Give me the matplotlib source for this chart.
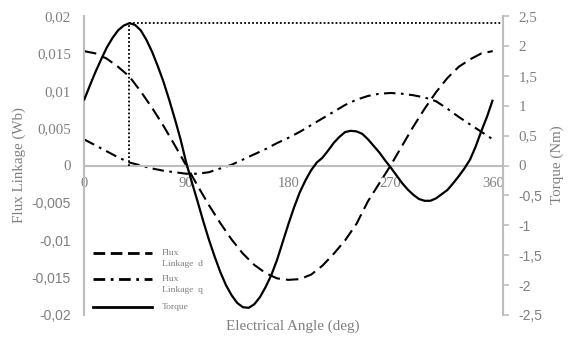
import numpy as np
import matplotlib
matplotlib.use("Agg")
import matplotlib.pyplot as plt

# ---------------- data ----------------
angle_flux = [0, 10, 20, 30, 40, 50, 60, 70, 80, 90, 100, 110, 120, 130, 140, 150, 160, 170, 180,
              190, 200, 210, 220, 230, 240, 250, 260, 270, 280, 290, 300, 310, 320, 330, 340, 350, 360]
flux_d = [0.0153, 0.0150, 0.0143, 0.0132, 0.0119, 0.0099, 0.0077, 0.0053, 0.0027, 0.0000,
          -0.0027, -0.0053, -0.0077, -0.0099, -0.0118, -0.0133, -0.0144, -0.0151, -0.0153,
          -0.0152, -0.0146, -0.0134, -0.0118, -0.0100, -0.0078, -0.0048, -0.0024, 0.0000,
          0.0026, 0.0052, 0.0076, 0.0098, 0.0117, 0.0132, 0.0142, 0.0150, 0.0153]
flux_q = [0.0035, 0.0027, 0.0019, 0.0011, 0.0004, 0.0000, -0.0004, -0.0007, -0.0009, -0.0011,
          -0.0011, -0.0009, -0.0004, 0.0001, 0.0008, 0.0015, 0.0022, 0.0030, 0.0037,
          0.0045, 0.0054, 0.0063, 0.0072, 0.0081, 0.0088, 0.0093, 0.0096, 0.0097,
          0.0096, 0.0094, 0.0091, 0.0086, 0.0076, 0.0065, 0.0055, 0.0045, 0.0035]

angle_torque = list(range(0, 361, 5))
torque = [1.09, 1.33, 1.56, 1.77, 1.97, 2.13, 2.26, 2.34, 2.38, 2.35, 2.26, 2.10, 1.90, 1.66, 1.40,
          1.10, 0.78, 0.44, 0.05, -0.28, -0.60, -0.93, -1.24, -1.52, -1.78, -2.00, -2.17, -2.30,
          -2.37, -2.38, -2.32, -2.20, -2.03, -1.83, -1.58, -1.28, -0.98, -0.70, -0.45, -0.25,
          -0.08, 0.05, 0.13, 0.25, 0.38, 0.48, 0.56, 0.58, 0.57, 0.53, 0.44, 0.33, 0.22, 0.09,
          -0.03, -0.16, -0.29, -0.40, -0.49, -0.56, -0.59, -0.59, -0.55, -0.48, -0.41, -0.30,
          -0.18, -0.05, 0.10, 0.32, 0.58, 0.82, 1.10]

x_ticks = [0, 90, 180, 270, 360]
x_ticklabels = ["0", "90", "180", "270", "360"]
left_ticks = [-0.02, -0.015, -0.01, -0.005, 0, 0.005, 0.01, 0.015, 0.02]
left_ticklabels = ["-0,02", "-0,015", "-0,01", "-0,005", "0", "0,005", "0,01", "0,015", "0,02"]
right_ticks = [-2.5, -2, -1.5, -1, -0.5, 0, 0.5, 1, 1.5, 2, 2.5]
right_ticklabels = ["-2,5", "-2", "-1,5", "-1", "-0,5", "0", "0,5", "1", "1,5", "2", "2,5"]
legend_labels = ["Flux\nLinkage  d", "Flux\nLinkage  q", "Torque"]

# ---------------- style ----------------
GRAY_TXT = "#7f7f7f"
GRAY_LINE = "#bdbdbd"
SERIF = "Liberation Serif"
SANS = "Liberation Sans"

W, H = 574, 338
fig = plt.figure(figsize=(W / 100, H / 100), dpi=100)
fig.patch.set_facecolor("white")

L, R, T, B = 84, 503, 16, 315
ax = fig.add_axes([L / W, (H - B) / H, (R - L) / W, (B - T) / H])
ax2 = ax.twinx()

ax.set_xlim(0, 369)
ax.set_ylim(-0.02, 0.02)
ax2.set_ylim(-2.5, 2.5)

# curves
dash_d = (0, (6.0, 2.9))
dash_q = (0, (5.5, 2.6, 1.3, 2.6))
ax.plot(angle_flux, flux_d, color="black", lw=1.5, linestyle=dash_d)
ax.plot(angle_flux, flux_q, color="black", lw=1.5, linestyle=dash_q)
ax2.plot(angle_torque, torque, color="black", lw=1.6, solid_capstyle="butt")

# max-torque markers
imax = int(np.argmax(torque))
a_max, t_max = angle_torque[imax], torque[imax]
ax2.plot([a_max, a_max], [0, t_max], color="black", lw=1.3, linestyle=(0, (1, 1.2)))
ax2.plot([a_max, 369], [t_max, t_max], color="black", lw=1.3, linestyle=(0, (1, 1.2)))

# spines
for s in ["top", "right", "left", "bottom"]:
    ax2.spines[s].set_visible(False)
ax.spines["top"].set_visible(False)
ax.spines["right"].set_visible(False)
ax.spines["left"].set_color(GRAY_LINE)
ax.spines["left"].set_linewidth(1.5)
ax.spines["bottom"].set_position(("data", 0))
ax.spines["bottom"].set_color(GRAY_LINE)
ax.spines["bottom"].set_linewidth(1.5)
ax2.spines["right"].set_visible(True)
ax2.spines["right"].set_color(GRAY_LINE)
ax2.spines["right"].set_linewidth(1.5)

# x ticks
ax.set_xticks(x_ticks)
ax.set_xticklabels(x_ticklabels, fontfamily=SERIF, fontsize=10.5, color=GRAY_TXT)
ax.tick_params(axis="x", length=0, pad=8)

# left ticks
ax.set_yticks(left_ticks)
ax.set_yticklabels(left_ticklabels)
ax.tick_params(axis="y", length=0, pad=9.5)
for lab in ax.get_yticklabels():
    neg = lab.get_text().startswith("-")
    lab.set_fontfamily(SANS if neg else SERIF)
    lab.set_fontsize(10 if neg else 10.8)
    lab.set_color(GRAY_TXT)

# right ticks
ax2.set_yticks(right_ticks)
ax2.set_yticklabels(right_ticklabels)
ax2.tick_params(axis="y", length=4, width=1.2, color=GRAY_LINE, pad=7, direction="out")
for lab in ax2.get_yticklabels():
    neg = lab.get_text().startswith("-")
    lab.set_fontfamily(SANS if neg else SERIF)
    lab.set_fontsize(10 if neg else 10.8)
    lab.set_color(GRAY_TXT)

# axis titles
fig.text(19 / W, 1 - 165 / H, "Flux Linkage (Wb)", rotation=90, ha="center", va="center",
         fontfamily=SERIF, fontsize=10.8, color=GRAY_TXT)
fig.text(557 / W, 1 - 165 / H, "Torque (Nm)", rotation=90, ha="center", va="center",
         fontfamily=SERIF, fontsize=10.8, color=GRAY_TXT)
fig.text(293 / W, 1 - 326 / H, "Electrical Angle (deg)", ha="center", va="center",
         fontfamily=SERIF, fontsize=10.9, color=GRAY_TXT)

# manual legend (axes fraction)
def fx(px):
    return (px - L) / (R - L)

def fy(py):
    return (B - py) / (B - T)

leg_styles = [(0, (4.2, 2.0)), (0, (4.2, 2.0, 1.0, 2.0)), "solid"]
leg_y = [253, 279, 307]
text_y = [249, 275, 307]
for style, ly, ty, lab in zip(leg_styles, leg_y, text_y, legend_labels):
    ax.plot([fx(93), fx(152)], [fy(ly), fy(ly)], transform=ax.transAxes, color="black",
            lw=2.0, linestyle=style, clip_on=False)
    va = "top" if "\n" in lab else "center"
    ax.text(fx(162), fy(ty), lab, transform=ax.transAxes, ha="left", va=va,
            fontfamily=SERIF, fontsize=6.8, color=GRAY_TXT, linespacing=1.5)

fig.savefig("out.png", dpi=100, facecolor="white")
